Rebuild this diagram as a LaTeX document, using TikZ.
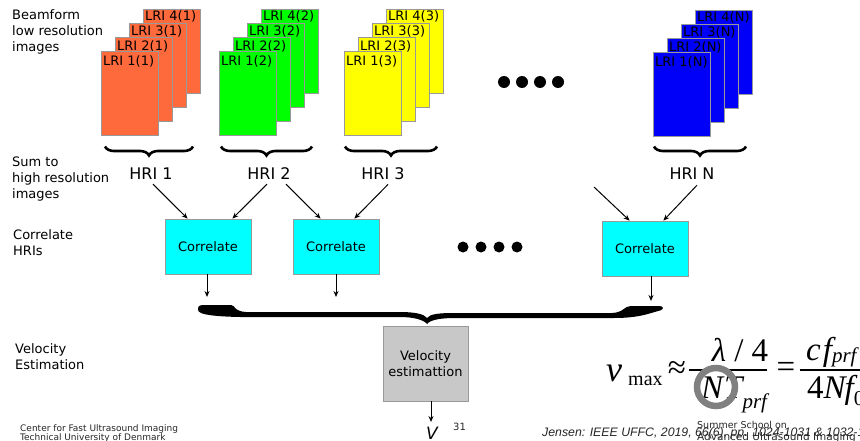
\documentclass[tikz,border=0pt]{standalone}
\usepackage{fontspec}
\setmainfont{DejaVu Sans}
\newfontfamily\eqfont{Liberation Serif}
\newfontfamily\reffont{Liberation Sans}
\usetikzlibrary{arrows.meta,calc,decorations.pathreplacing}

\definecolor{lriorange}{HTML}{FF6A3C}
\definecolor{lrigreen}{HTML}{00FF00}
\definecolor{lriyellow}{HTML}{FFFF00}
\definecolor{lriblue}{HTML}{0000F8}
\definecolor{corrcyan}{HTML}{00FFFF}
\definecolor{velgray}{HTML}{C8C8C8}
\definecolor{edgegray}{HTML}{999999}
\definecolor{ringgray}{HTML}{808080}

% one stack of four low resolution images: #1,#2 = top-left of the front sheet
\newcommand\lristack[4]{%
  \foreach \j in {4,3,2,1}{%
    \node[lri, fill=#3] (s#4-\j) at ({#1+14*(\j-1)},{#2-14*(\j-1)}) {};
    \node[lrilabel] (t#4-\j) at ($(s#4-\j.north west)+(2,{12+(4-\j)})$) {LRI \j(#4)};
  }%
}

\begin{document}
\begin{tikzpicture}[x=1pt,y=-1pt,
  lri/.style={draw=edgegray, line width=0.7pt, minimum width=57pt,
    minimum height=84pt, inner sep=0pt, anchor=north west},
  lrilabel/.style={font=\fontsize{13}{13}\selectfont, inner sep=0pt, anchor=base west},
  sidelabel/.style={font=\fontsize{13}{16}\selectfont, align=left, inner sep=0pt, anchor=base west},
  hri/.style={font=\fontsize{16}{16}\selectfont, inner sep=0pt, anchor=base},
  corr/.style={draw=edgegray, fill=corrcyan, line width=0.8pt, minimum width=86pt,
    minimum height=55pt, inner sep=0pt, font=\fontsize{13}{13}\selectfont},
  flow/.style={-{Stealth[length=6pt,width=5pt]}, line width=1pt},
  hribrace/.style={decorate, decoration={brace, amplitude=9pt}, line width=2.6pt},
  bigdot/.style={circle, fill=black, inner sep=0pt, minimum size=12pt},
  middot/.style={circle, fill=black, inner sep=0pt, minimum size=11pt},
  eq/.style={font=\eqfont\fontsize{33}{33}\selectfont, inner sep=0pt},
  footer/.style={font=\fontsize{9}{9}\selectfont, text=black!85, inner sep=0pt, anchor=base west}]

\useasboundingbox (0,0) rectangle (860,441);
\clip (0,0) rectangle (860,441);

% row labels on the left (anchored at the baseline of their last line)
\node[sidelabel] (lbeam) at (12,52) {Beamform\\low resolution\\images};
\node[sidelabel] (lsum) at (12,198) {Sum to\\high resolution\\images};
\node[sidelabel] (lcorr) at (13,255) {Correlate\\HRIs};
\node[sidelabel] (lvel) at (15,369) {Velocity\\Estimation};

% stacks of low resolution images
\lristack{101}{51}{lriorange}{1}
\lristack{219}{51}{lrigreen}{2}
\lristack{344}{51}{lriyellow}{3}
\lristack{653}{52}{lriblue}{N}

\node[bigdot] (d1) at (504,82) {};
\node[bigdot] (d2) at (522,82) {};
\node[bigdot] (d3) at (540,82) {};
\node[bigdot] (d4) at (558,82) {};

% summation braces
\coordinate (b1l) at (105,146.5); \coordinate (b1r) at (193,146.5);
\coordinate (b2l) at (221,146.5); \coordinate (b2r) at (312,146.5);
\coordinate (b3l) at (345,146.5); \coordinate (b3r) at (437,146.5);
\coordinate (bNl) at (654,146.5); \coordinate (bNr) at (746,146.5);
\draw[hribrace] (b1r) -- (b1l);
\draw[hribrace] (b2r) -- (b2l);
\draw[hribrace] (b3r) -- (b3l);
\draw[hribrace] (bNr) -- (bNl);

% high resolution images
\node[hri] (hri1) at (151,180) {HRI 1};
\node[hri] (hri2) at (269,180) {HRI 2};
\node[hri] (hri3) at (383,180) {HRI 3};
\node[hri] (hriN) at (692,180) {HRI N};

% correlation blocks
\node[corr] (corr1) at (208,246.5) {Correlate};
\node[corr] (corr2) at (336,246.5) {Correlate};
\node[corr] (corrN) at (645,248.5) {Correlate};

\node[middot] (m1) at (463,247) {};
\node[middot] (m2) at (481,247) {};
\node[middot] (m3) at (499,247) {};
\node[middot] (m4) at (517,247) {};

\coordinate (hin) at (594,187);
\draw[flow] ($(hri1.south)+(2,4)$) -- ($(corr1.north west)+(23,0)$);
\draw[flow] ($(hri2.south)+(-2,4)$) -- ($(corr1.north east)+(-19,0)$);
\draw[flow] ($(hri2.south)+(17,4)$) -- ($(corr2.north west)+(28,0)$);
\draw[flow] ($(hri3.south)+(5,4)$) -- ($(corr2.north east)+(-25,0)$);
\draw[flow] (hin) -- ($(corrN.north west)+(28,0)$);
\draw[flow] ($(hriN.south)+(5,5)$) -- ($(corrN.north east)+(-25,0)$);

% outputs of the correlation blocks
\coordinate (o1) at (207,297);
\coordinate (o2) at (336,297);
\coordinate (oN) at (651,301);
\draw[flow] (corr1.south -| o1) -- (o1);
\draw[flow] (corr2.south -| o2) -- (o2);
\draw[flow] (corrN.south -| oN) -- (oN);

% large brace collecting all correlations
\fill (198,309)
  .. controls (198,305.5) and (200,305) .. (205,305)
  -- (231,305)
  .. controls (235,305) and (234,311.5) .. (246,312)
  -- (400,312)
  .. controls (415,312) and (424,314) .. (427,318)
  .. controls (430,314) and (439,313) .. (454,313)
  -- (612,313)
  .. controls (624,312.5) and (624,306) .. (631,306)
  -- (659,306)
  .. controls (664,306) and (664,309.5) .. (660,310.5)
  .. controls (650,313) and (640,318) .. (614,318)
  -- (455,318)
  .. controls (440,318) and (430,320) .. (427,324)
  .. controls (424,320) and (414,317) .. (400,317)
  -- (240,317)
  .. controls (216,316.5) and (206,315) .. (201,313)
  .. controls (198.5,312) and (198,311) .. (198,309) -- cycle;

% velocity estimation
\node[draw=edgegray, fill=velgray, line width=0.8pt, minimum width=85pt, minimum height=75pt,
  inner sep=0pt, align=center, font=\fontsize{13}{16}\selectfont] (vel) at (425.5,363.5)
  {Velocity\\estimattion};
\coordinate (vout) at (431,422);
\draw[flow] (vel.south -| vout) -- (vout);
\node[font=\fontsize{17}{17}\selectfont\itshape, inner sep=0pt, anchor=north] (vres) at (432,427) {V};
\node[footer, font=\fontsize{10}{10}\selectfont] (page) at (453,430) {31};

% maximum velocity formula
\node[eq, anchor=base west, font=\eqfont\fontsize{36}{36}\selectfont\itshape] (vv) at (606,381) {v};
\node[eq, anchor=base west, font=\eqfont\fontsize{20}{20}\selectfont] (vmax) at (628,385) {max};
\node[eq] (approx) at (677,370) {≈};
\node[eq, anchor=base] (num1) at (740,361) {{\itshape λ} / 4};
\draw[line width=1.4pt] ($(approx.east)+(3,0)$) -- ++(78,0);
\node[eq, anchor=base west] (den1) at (701,398)
  {{\itshape N\kern1pt T}\raisebox{-10pt}{\fontsize{21}{21}\selectfont\itshape prf}};
\node[eq] (equals) at (786,370) {=};
\node[eq, anchor=base west] (num2) at (806,360)
  {{\itshape c\kern2pt f}\raisebox{-2pt}{\fontsize{21}{21}\selectfont\itshape prf}};
\draw[line width=1.4pt] ($(equals.east)+(4,0)$) -- ++(70,0);
\node[eq, anchor=base west] (den2) at (807,398)
  {4{\itshape N\kern-1pt f}\raisebox{-7pt}{\fontsize{21}{21}\selectfont 0}};
\draw[ringgray, line width=6.5pt] (716,387) circle (19);

% footers
\node[footer] (ctr) at (20,431) {Center for Fast Ultrasound Imaging};
\node[footer] (dtu) at (20,440) {Technical University of Denmark};
\node[footer, font=\reffont\itshape\fontsize{12.3}{12.3}\selectfont] (ref) at (542,436)
  {Jensen: IEEE UFFC, 2019, 66(6), pp. 1024-1031 \& 1032-1040};
\node[footer, font=\fontsize{9.5}{9.5}\selectfont] (school) at (697,428) {Summer School on};
\node[footer, font=\fontsize{10.5}{10.5}\selectfont] (adv) at (697,440) {Advanced Ultrasound Imaging};
\end{tikzpicture}
\end{document}
